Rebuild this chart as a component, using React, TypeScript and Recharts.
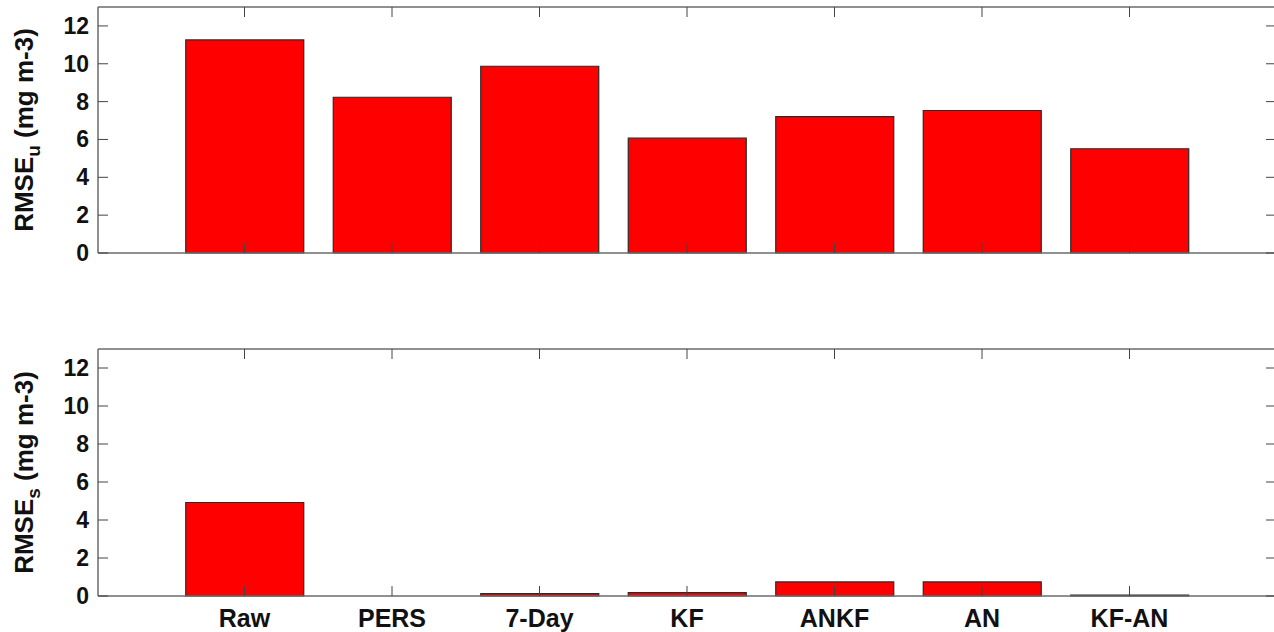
import { ComposedChart, Bar, Line, XAxis, YAxis } from 'recharts';

const categories = ['Raw', 'PERS', '7-Day', 'KF', 'ANKF', 'AN', 'KF-AN'];
const rmseU = [11.26, 8.23, 9.87, 6.07, 7.21, 7.53, 5.51];
const rmseS = [4.92, 0, 0.12, 0.18, 0.74, 0.74, 0.05];
const yTicks = [0, 2, 4, 6, 8, 10, 12];

const CHART_W = 1290;
const Y_AXIS_W = 98;
const MARGIN_R = 13; // +1px of right axis width
const PLOT_RIGHT = CHART_W - MARGIN_R - 1;
const FONT = '"Liberation Sans", Arial, sans-serif';
const AXIS_COLOR = '#6b6b6b';
const TICK_LEN = 10;

const upperData = categories.map((name, i) => ({ name, v: rmseU[i] }));
const lowerData = categories.map((name, i) => ({ name, v: rmseS[i] }));

// y ticks: label outside, tick marks pointing inward on both sides of the box
function YTick({ x, y, payload }: any) {
  return (
    <g>
      <line x1={x} x2={x + TICK_LEN} y1={y} y2={y} stroke="#444" strokeWidth={1} />
      <line x1={PLOT_RIGHT - TICK_LEN} x2={PLOT_RIGHT} y1={y} y2={y} stroke="#444" strokeWidth={1} />
      <text x={x - 9} y={y} dy={8} textAnchor="end" fontFamily={FONT} fontWeight="bold" fontSize={23} fill="#111">
        {payload.value}
      </text>
    </g>
  );
}

function makeXTick(plotTop: number, showLabel: boolean) {
  return function XTick({ x, y, payload }: any) {
    return (
      <g>
        <line x1={x} x2={x} y1={y - TICK_LEN} y2={y} stroke="#444" strokeWidth={1} />
        <line x1={x} x2={x} y1={plotTop} y2={plotTop + TICK_LEN} stroke="#444" strokeWidth={1} />
        {showLabel && (
          <text x={x} y={y + 31} textAnchor="middle" fontFamily={FONT} fontWeight="bold" fontSize={25} fill="#111">
            {payload.value}
          </text>
        )}
      </g>
    );
  };
}

function YLabel({ viewBox, sub }: any) {
  const cx = 33;
  const cy = viewBox.y + viewBox.height / 2;
  return (
    <text
      x={cx}
      y={cy}
      transform={`rotate(-90, ${cx}, ${cy})`}
      textAnchor="middle"
      fontFamily={FONT}
      fontWeight="bold"
      fontSize={26}
      fill="#111"
    >
      RMSE
      <tspan dy={7} fontSize={19}>{sub}</tspan>
      <tspan dy={-7}> (mg m-3)</tspan>
    </text>
  );
}

function Panel({ data, top, height, marginTop, xHeight, marginBottom, showLabels, sub }: any) {
  const frame = { stroke: AXIS_COLOR, strokeWidth: 1.5 };
  // the top x axis takes 1px, so the plot starts at marginTop + 1
  const plotTop = marginTop + 1;
  return (
    <div style={{ position: 'absolute', left: 0, top }}>
      <ComposedChart
        width={CHART_W}
        height={height}
        data={data}
        margin={{ top: marginTop, right: MARGIN_R, left: 0, bottom: marginBottom }}
        barSize={118}
      >
        <XAxis
          dataKey="name"
          height={xHeight}
          padding={{ left: 72.75, right: 72.75 }}
          axisLine={frame}
          tickLine={false}
          tickSize={0}
          tickMargin={0}
          interval={0}
          tick={makeXTick(plotTop, showLabels)}
        />
        <XAxis
          xAxisId="top"
          orientation="top"
          dataKey="name"
          height={1}
          padding={{ left: 72.75, right: 72.75 }}
          axisLine={frame}
          tickLine={false}
          tick={() => <g />}
        />
        <YAxis
          type="number"
          domain={[0, 13]}
          ticks={yTicks}
          width={Y_AXIS_W}
          axisLine={frame}
          tickLine={false}
          tickSize={0}
          tickMargin={0}
          tick={YTick}
          label={<YLabel sub={sub} />}
        />
        <YAxis
          yAxisId="right"
          orientation="right"
          type="number"
          domain={[0, 13]}
          width={1}
          axisLine={frame}
          tickLine={false}
          tick={() => <g />}
        />
        <Bar dataKey="v" fill="#ff0000" stroke="#2a2a2a" strokeWidth={1.2} isAnimationActive={false} />
        <Line
          xAxisId="top"
          yAxisId="right"
          dataKey="v"
          stroke="none"
          dot={false}
          activeDot={false}
          legendType="none"
          isAnimationActive={false}
        />
      </ComposedChart>
    </div>
  );
}

export default function App() {
  return (
    <div style={{ position: 'absolute', left: 0, top: 0, width: 1274, height: 632, overflow: 'hidden', background: '#fff' }}>
      <Panel data={upperData} top={0} height={270} marginTop={6} xHeight={1} marginBottom={16} showLabels={false} sub="u" />
      <Panel data={lowerData} top={340} height={292} marginTop={8} xHeight={36} marginBottom={0} showLabels={true} sub="s" />
    </div>
  );
}
